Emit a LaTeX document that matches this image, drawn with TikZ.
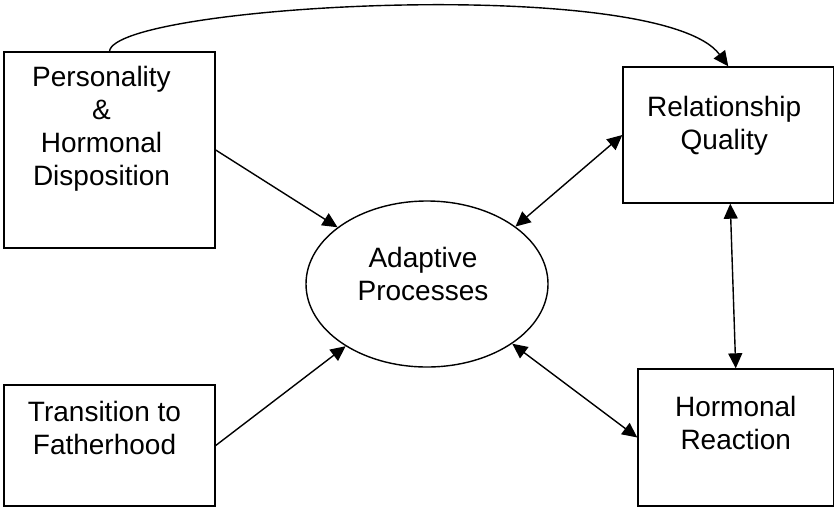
\documentclass[tikz,border=0pt]{standalone}
\usepackage{fontspec}
\setmainfont{Liberation Sans}
\usetikzlibrary{positioning,shapes.geometric,arrows.meta}

\tikzset{
    factor/.style={draw, line width=1.4pt, inner sep=0pt},
    process/.style={draw, ellipse, line width=1.4pt, inner sep=0pt,
        minimum width=242pt, minimum height=166pt},
    boxtext/.style={align=center, inner sep=0pt, font=\fontsize{28}{33}\selectfont},
    link/.style={line width=1.4pt, -{Triangle[length=15pt,width=14pt]}},
    mutual/.style={line width=1.4pt,
        {Triangle[length=15pt,width=14pt]}-{Triangle[length=15pt,width=14pt]}},
}

\begin{document}
\begin{tikzpicture}[x=1pt, y=-1pt]
    \useasboundingbox (0,0) rectangle (835,507);

    % boxes and the ellipse
    \node[factor, minimum width=211pt, minimum height=196pt] (pers) at (109.5,150) {};
    \node[factor, minimum width=211pt, minimum height=121pt] (trans) at (109.5,445.5) {};
    \node[factor, minimum width=210.5pt, minimum height=136pt] (rel) at (728.25,135) {};
    \node[factor, minimum width=195.5pt, minimum height=137pt] (horm) at (735.75,437.5) {};
    \node[process] (adapt) at (427,284) {};

    % texts
    \node[boxtext, anchor=north, below=15pt of pers.north, xshift=-8pt] (perstext)
        {Personality\\\&\\Hormonal\\Disposition};
    \node[boxtext, anchor=north, below=17pt of trans.north, xshift=-5pt] (transtext)
        {Transition to\\Fatherhood};
    \node[boxtext, anchor=north, below=30pt of rel.north, xshift=-4pt] (reltext)
        {Relationship\\Quality};
    \node[boxtext, anchor=north, below=28pt of horm.north] (hormtext)
        {Hormonal\\Reaction};
    \node[boxtext] (adapttext) at ([xshift=-4pt, yshift=10pt]adapt.center)
        {Adaptive\\Processes};

    % arrows
    \draw[link] (pers.east) -- (adapt);
    \draw[link] (trans.east) -- (adapt);
    \draw[mutual] (adapt.33) -- (rel.west);
    \draw[mutual] (adapt.325) -- (horm.west);
    \draw[mutual] ([xshift=2pt]rel.south) -- (horm.north);
    \draw[link] (pers.north) .. controls +(5,-47) and +(-68,-92) .. (rel.north);
\end{tikzpicture}
\end{document}
